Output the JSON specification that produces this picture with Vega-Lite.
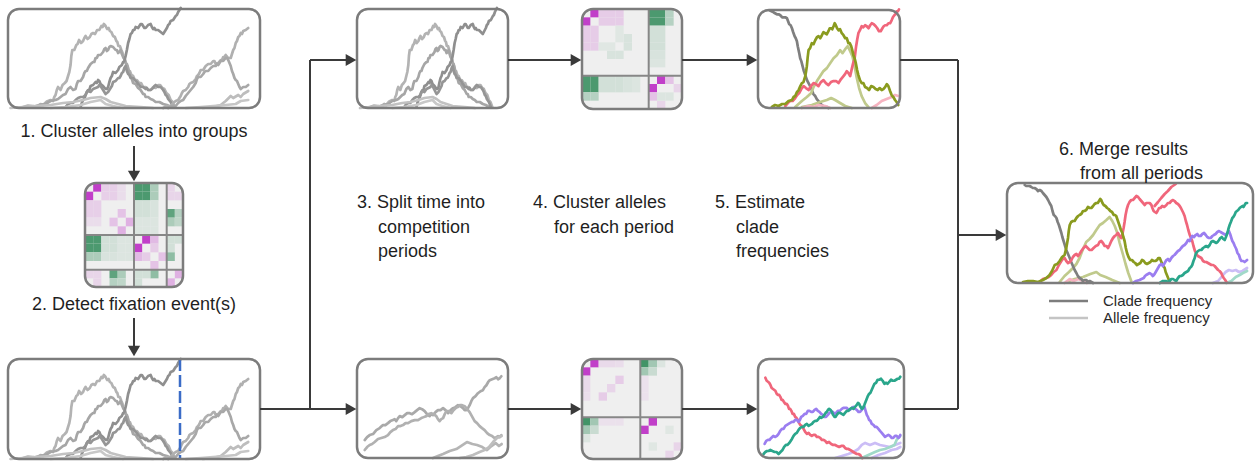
{
"$schema":"https://vega.github.io/schema/vega-lite/v6.json",
"width":1255,"height":462,"padding":0,"autosize":{"type":"none"},
"background":"#ffffff",
"config":{"view":{"stroke":null}},
"datasets":{
"frames":[{"x":8,"y":9,"x2":260,"y2":108},{"x":8,"y":359,"x2":260,"y2":459},{"x":357,"y":9,"x2":508,"y2":108},{"x":758,"y":10,"x2":900,"y2":108},{"x":357,"y":359,"x2":508,"y2":458},{"x":758,"y":359,"x2":904,"y2":458},{"x":1007,"y":183,"x2":1253,"y2":283},{"x":85,"y":183,"x2":183,"y2":287},{"x":582,"y":9,"x2":682,"y2":109},{"x":582,"y":359,"x2":682,"y2":459}],
"hframes":[{"x":85,"y":183,"x2":183,"y2":287},{"x":582,"y":9,"x2":682,"y2":109},{"x":582,"y":359,"x2":682,"y2":459}],
"hgrid":[{"x":134,"y":183,"x2":134,"y2":287},{"x":166.7,"y":183,"x2":166.7,"y2":287},{"x":85,"y":235,"x2":183,"y2":235},{"x":85,"y":269.7,"x2":183,"y2":269.7},{"x":648.7,"y":9,"x2":648.7,"y2":109},{"x":582,"y":75.7,"x2":682,"y2":75.7},{"x":640.3,"y":359,"x2":640.3,"y2":459},{"x":582,"y":417.3,"x2":682,"y2":417.3}],
"segs":[{"x":134,"y":146,"x2":134,"y2":172},{"x":134,"y":318,"x2":134,"y2":347},{"x":260,"y":409,"x2":310,"y2":409},{"x":310,"y":60,"x2":310,"y2":409},{"x":310,"y":60,"x2":347,"y2":60},{"x":310,"y":409,"x2":347,"y2":409},{"x":508,"y":60,"x2":572,"y2":60},{"x":682,"y":60,"x2":748,"y2":60},{"x":508,"y":409,"x2":572,"y2":409},{"x":682,"y":409,"x2":748,"y2":409},{"x":900,"y":60,"x2":958,"y2":60},{"x":958,"y":60,"x2":958,"y2":409},{"x":904,"y":409,"x2":958,"y2":409},{"x":958,"y":235,"x2":997,"y2":235}],
"headsR":[{"x":357,"y":60},{"x":582,"y":60},{"x":758,"y":60},{"x":357,"y":409},{"x":582,"y":409},{"x":758,"y":409},{"x":1007,"y":235}],
"headsD":[{"x":134,"y":182},{"x":134,"y":357}],
"legend":[{"k":"clade","x":1049,"x2":1088,"y":301},{"k":"allele","x":1049,"x2":1088,"y":318}],
"tcenter":[{"label":"1. Cluster alleles into groups","x":134,"y":137},{"label":"2. Detect fixation event(s)","x":134,"y":310}],
"tleft":[{"label":"3. Split time into","x":357,"y":208},{"label":"competition","x":378,"y":233},{"label":"periods","x":378,"y":257},{"label":"4. Cluster alleles","x":533,"y":208},{"label":"for each period","x":554,"y":233},{"label":"5. Estimate","x":715,"y":208},{"label":"clade","x":736,"y":233},{"label":"frequencies","x":736,"y":257},{"label":"6. Merge results","x":1059,"y":155},{"label":"from all periods","x":1080,"y":179}],
"tlegend":[{"label":"Clade frequency","x":1103,"y":301},{"label":"Allele frequency","x":1103,"y":318}],
"h1":[{"i":1,"j":0,"v":-1},{"i":0,"j":1,"v":-1},{"i":2,"j":0,"v":-0.18},{"i":3,"j":0,"v":-0.18},{"i":2,"j":1,"v":-0.18},{"i":3,"j":1,"v":-0.18},{"i":0,"j":2,"v":-0.18},{"i":0,"j":3,"v":-0.18},{"i":1,"j":2,"v":-0.18},{"i":1,"j":3,"v":-0.18},{"i":0,"j":4,"v":-0.1},{"i":1,"j":4,"v":-0.1},{"i":4,"j":0,"v":-0.1},{"i":4,"j":1,"v":-0.1},{"i":4,"j":3,"v":-0.25},{"i":3,"j":4,"v":-0.25},{"i":5,"j":4,"v":-0.35},{"i":4,"j":5,"v":-0.35},{"i":6,"j":0,"v":0.85},{"i":7,"j":0,"v":0.85},{"i":6,"j":1,"v":0.85},{"i":7,"j":1,"v":0.85},{"i":0,"j":6,"v":0.85},{"i":0,"j":7,"v":0.85},{"i":1,"j":6,"v":0.85},{"i":1,"j":7,"v":0.85},{"i":8,"j":0,"v":0.35},{"i":8,"j":1,"v":0.35},{"i":0,"j":8,"v":0.35},{"i":1,"j":8,"v":0.35},{"i":6,"j":2,"v":0.15},{"i":7,"j":2,"v":0.15},{"i":8,"j":2,"v":0.12},{"i":6,"j":3,"v":0.15},{"i":7,"j":3,"v":0.15},{"i":8,"j":3,"v":0.12},{"i":6,"j":4,"v":0.1},{"i":7,"j":4,"v":0.1},{"i":8,"j":4,"v":0.1},{"i":6,"j":5,"v":0.1},{"i":7,"j":5,"v":0.1},{"i":8,"j":5,"v":0.1},{"i":2,"j":6,"v":0.15},{"i":2,"j":7,"v":0.15},{"i":2,"j":8,"v":0.12},{"i":3,"j":6,"v":0.15},{"i":3,"j":7,"v":0.15},{"i":3,"j":8,"v":0.12},{"i":4,"j":6,"v":0.1},{"i":4,"j":7,"v":0.1},{"i":4,"j":8,"v":0.1},{"i":5,"j":6,"v":0.1},{"i":5,"j":7,"v":0.1},{"i":5,"j":8,"v":0.1},{"i":10,"j":0,"v":-0.15},{"i":10,"j":1,"v":-0.15},{"i":11,"j":1,"v":-0.15},{"i":0,"j":10,"v":-0.15},{"i":1,"j":10,"v":-0.15},{"i":1,"j":11,"v":-0.15},{"i":10,"j":3,"v":0.75},{"i":3,"j":10,"v":0.75},{"i":10,"j":4,"v":0.35},{"i":4,"j":10,"v":0.35},{"i":11,"j":3,"v":0.3},{"i":3,"j":11,"v":0.3},{"i":11,"j":4,"v":0.25},{"i":4,"j":11,"v":0.25},{"i":7,"j":6,"v":-1},{"i":6,"j":7,"v":-1},{"i":8,"j":6,"v":-0.3},{"i":6,"j":8,"v":-0.3},{"i":8,"j":7,"v":-0.2},{"i":7,"j":8,"v":-0.2},{"i":9,"j":8,"v":-0.25},{"i":8,"j":9,"v":-0.25},{"i":10,"j":6,"v":0.15},{"i":11,"j":6,"v":0.15},{"i":10,"j":7,"v":0.15},{"i":10,"j":8,"v":0.5},{"i":8,"j":10,"v":0.5},{"i":6,"j":10,"v":0.15},{"i":7,"j":10,"v":0.15},{"i":6,"j":11,"v":0.15},{"i":11,"j":10,"v":-0.35},{"i":10,"j":11,"v":-0.35}],
"h2":[{"i":1,"j":0,"v":-1},{"i":0,"j":1,"v":-1},{"i":2,"j":0,"v":-0.2},{"i":3,"j":0,"v":-0.2},{"i":4,"j":0,"v":-0.2},{"i":2,"j":1,"v":-0.2},{"i":3,"j":1,"v":-0.2},{"i":4,"j":1,"v":-0.2},{"i":0,"j":2,"v":-0.2},{"i":0,"j":3,"v":-0.2},{"i":0,"j":4,"v":-0.2},{"i":1,"j":2,"v":-0.2},{"i":1,"j":3,"v":-0.2},{"i":1,"j":4,"v":-0.2},{"i":5,"j":3,"v":0.12},{"i":5,"j":4,"v":0.12},{"i":3,"j":5,"v":0.12},{"i":4,"j":5,"v":0.12},{"i":2,"j":4,"v":0.08},{"i":3,"j":4,"v":0.08},{"i":4,"j":2,"v":0.08},{"i":4,"j":3,"v":0.08},{"i":8,"j":0,"v":0.85},{"i":9,"j":0,"v":0.85},{"i":8,"j":1,"v":0.85},{"i":9,"j":1,"v":0.85},{"i":0,"j":8,"v":0.85},{"i":0,"j":9,"v":0.85},{"i":1,"j":8,"v":0.85},{"i":1,"j":9,"v":0.85},{"i":10,"j":0,"v":0.3},{"i":10,"j":1,"v":0.3},{"i":0,"j":10,"v":0.3},{"i":1,"j":10,"v":0.3},{"i":8,"j":2,"v":0.15},{"i":9,"j":2,"v":0.15},{"i":8,"j":3,"v":0.15},{"i":9,"j":3,"v":0.15},{"i":8,"j":4,"v":0.15},{"i":9,"j":4,"v":0.15},{"i":8,"j":5,"v":0.12},{"i":9,"j":5,"v":0.12},{"i":8,"j":6,"v":0.1},{"i":9,"j":6,"v":0.1},{"i":2,"j":8,"v":0.15},{"i":2,"j":9,"v":0.15},{"i":3,"j":8,"v":0.15},{"i":3,"j":9,"v":0.15},{"i":4,"j":8,"v":0.15},{"i":4,"j":9,"v":0.15},{"i":5,"j":8,"v":0.12},{"i":5,"j":9,"v":0.12},{"i":6,"j":8,"v":0.1},{"i":6,"j":9,"v":0.1},{"i":9,"j":8,"v":-1},{"i":8,"j":9,"v":-1},{"i":10,"j":8,"v":-0.25},{"i":8,"j":10,"v":-0.25},{"i":10,"j":10,"v":0.1},{"i":11,"j":9,"v":-0.15},{"i":9,"j":11,"v":-0.15},{"i":9,"j":10,"v":0.1}],
"h3":[{"i":1,"j":0,"v":-1},{"i":0,"j":1,"v":-1},{"i":2,"j":0,"v":-0.12},{"i":3,"j":0,"v":-0.12},{"i":0,"j":2,"v":-0.12},{"i":0,"j":3,"v":-0.12},{"i":4,"j":2,"v":-0.2},{"i":2,"j":4,"v":-0.2},{"i":3,"j":3,"v":-0.15},{"i":0,"j":4,"v":-0.1},{"i":4,"j":0,"v":-0.1},{"i":7,"j":0,"v":0.9},{"i":8,"j":0,"v":0.4},{"i":7,"j":1,"v":0.4},{"i":8,"j":1,"v":0.2},{"i":9,"j":0,"v":0.1},{"i":0,"j":7,"v":0.9},{"i":0,"j":8,"v":0.4},{"i":1,"j":7,"v":0.4},{"i":1,"j":8,"v":0.2},{"i":0,"j":9,"v":0.1},{"i":2,"j":7,"v":-0.08},{"i":3,"j":7,"v":-0.08},{"i":4,"j":7,"v":-0.08},{"i":7,"j":2,"v":-0.08},{"i":7,"j":3,"v":-0.08},{"i":7,"j":4,"v":-0.08},{"i":8,"j":7,"v":-1},{"i":7,"j":8,"v":-1},{"i":11,"j":10,"v":-0.15},{"i":10,"j":11,"v":-0.15},{"i":10,"j":8,"v":0.08},{"i":8,"j":10,"v":0.08}],
"p1":[
{"s":"L1","t":6,"f":1},{"s":"L1","t":8,"f":2.5},{"s":"L1","t":10,"f":2},{"s":"L1","t":11,"f":1},{"s":"L1","t":12,"f":2},{"s":"L1","t":13,"f":4},{"s":"L1","t":14,"f":3},{"s":"L1","t":15.5,"f":6.5},{"s":"L1","t":17,"f":8},{"s":"L1","t":18,"f":7},{"s":"L1","t":18.5,"f":11},{"s":"L1","t":19,"f":13},{"s":"L1","t":19.5,"f":18},{"s":"L1","t":20,"f":21},{"s":"L1","t":21,"f":18},{"s":"L1","t":21.8,"f":23},{"s":"L1","t":22.7,"f":25},{"s":"L1","t":23.4,"f":27},{"s":"L1","t":24,"f":32},{"s":"L1","t":24.5,"f":36},{"s":"L1","t":25,"f":43},{"s":"L1","t":25.3,"f":52},{"s":"L1","t":25.7,"f":58},{"s":"L1","t":26.5,"f":58},{"s":"L1","t":27.3,"f":63},{"s":"L1","t":27.8,"f":64},{"s":"L1","t":28.4,"f":68},{"s":"L1","t":29.2,"f":65},{"s":"L1","t":30,"f":67},{"s":"L1","t":30.5,"f":70},{"s":"L1","t":31,"f":72},{"s":"L1","t":31.8,"f":69},{"s":"L1","t":32.7,"f":71},{"s":"L1","t":33.3,"f":74},{"s":"L1","t":34,"f":75},{"s":"L1","t":34.8,"f":74},{"s":"L1","t":35.6,"f":78},{"s":"L1","t":36.5,"f":78},{"s":"L1","t":37.3,"f":82},{"s":"L1","t":37.8,"f":81},{"s":"L1","t":38.3,"f":84},{"s":"L1","t":39,"f":82},{"s":"L1","t":39.6,"f":79},{"s":"L1","t":40.2,"f":80},{"s":"L1","t":40.7,"f":77},{"s":"L1","t":41.3,"f":76},{"s":"L1","t":42,"f":72},{"s":"L1","t":42.7,"f":71},{"s":"L1","t":43.3,"f":67},{"s":"L1","t":43.7,"f":66},{"s":"L1","t":44.1,"f":62},{"s":"L1","t":44.7,"f":62},{"s":"L1","t":45.3,"f":58},{"s":"L1","t":45.8,"f":55},{"s":"L1","t":46.3,"f":50},{"s":"L1","t":46.8,"f":48},{"s":"L1","t":47.3,"f":43},{"s":"L1","t":47.7,"f":42},{"s":"L1","t":48.1,"f":37},{"s":"L1","t":48.7,"f":37},{"s":"L1","t":49.3,"f":33},{"s":"L1","t":50,"f":32},{"s":"L1","t":50.7,"f":28},{"s":"L1","t":51.5,"f":28},{"s":"L1","t":52.4,"f":25},{"s":"L1","t":53.2,"f":25},{"s":"L1","t":54,"f":21},{"s":"L1","t":55,"f":21},{"s":"L1","t":56,"f":18},{"s":"L1","t":57,"f":18},{"s":"L1","t":58,"f":21},{"s":"L1","t":59,"f":20},{"s":"L1","t":60,"f":23},{"s":"L1","t":60.8,"f":23},{"s":"L1","t":61.7,"f":20},{"s":"L1","t":62.5,"f":19},{"s":"L1","t":63.3,"f":15},{"s":"L1","t":64.2,"f":13},{"s":"L1","t":65,"f":8},{"s":"L1","t":65.8,"f":6},{"s":"L1","t":66.7,"f":1},
{"s":"L2","t":10,"f":1},{"s":"L2","t":12.5,"f":3},{"s":"L2","t":15,"f":4},{"s":"L2","t":17,"f":7},{"s":"L2","t":19,"f":8},{"s":"L2","t":20,"f":9},{"s":"L2","t":21,"f":11},{"s":"L2","t":22,"f":13},{"s":"L2","t":23,"f":14},{"s":"L2","t":24,"f":19},{"s":"L2","t":25,"f":21},{"s":"L2","t":26,"f":18},{"s":"L2","t":27,"f":19},{"s":"L2","t":27.5,"f":24},{"s":"L2","t":28,"f":27},{"s":"L2","t":29,"f":27},{"s":"L2","t":30,"f":31},{"s":"L2","t":30.5,"f":35},{"s":"L2","t":31,"f":37},{"s":"L2","t":31.5,"f":37},{"s":"L2","t":32,"f":40},{"s":"L2","t":33,"f":44},{"s":"L2","t":34,"f":46},{"s":"L2","t":34.5,"f":46},{"s":"L2","t":35,"f":50},{"s":"L2","t":35.5,"f":50},{"s":"L2","t":36,"f":53},{"s":"L2","t":37,"f":53},{"s":"L2","t":38,"f":56},{"s":"L2","t":38.5,"f":59},{"s":"L2","t":39,"f":60},{"s":"L2","t":39.5,"f":57},{"s":"L2","t":40,"f":58},{"s":"L2","t":40.5,"f":61},{"s":"L2","t":41,"f":62},{"s":"L2","t":42,"f":61},{"s":"L2","t":43,"f":58},{"s":"L2","t":43.5,"f":58},{"s":"L2","t":44,"f":55},{"s":"L2","t":44.5,"f":56},{"s":"L2","t":45,"f":58},{"s":"L2","t":45.5,"f":54},{"s":"L2","t":46,"f":51},{"s":"L2","t":46.5,"f":49},{"s":"L2","t":47,"f":45},{"s":"L2","t":47.5,"f":44},{"s":"L2","t":48,"f":40},{"s":"L2","t":48.5,"f":35},{"s":"L2","t":49,"f":31},{"s":"L2","t":49.5,"f":29},{"s":"L2","t":50,"f":25},{"s":"L2","t":51,"f":24},{"s":"L2","t":52,"f":20},{"s":"L2","t":53,"f":18},{"s":"L2","t":54,"f":14},{"s":"L2","t":54.5,"f":14},{"s":"L2","t":55,"f":11},{"s":"L2","t":56,"f":11},{"s":"L2","t":57,"f":9},{"s":"L2","t":58,"f":8},{"s":"L2","t":59,"f":6},{"s":"L2","t":60.5,"f":6},{"s":"L2","t":62,"f":4},{"s":"L2","t":63.5,"f":3},{"s":"L2","t":65,"f":1},
{"s":"L3","t":29,"f":1},{"s":"L3","t":29.5,"f":5},{"s":"L3","t":30,"f":8},{"s":"L3","t":30.5,"f":9},{"s":"L3","t":31,"f":13},{"s":"L3","t":31.5,"f":16},{"s":"L3","t":32,"f":18},{"s":"L3","t":32.5,"f":18},{"s":"L3","t":33,"f":22},{"s":"L3","t":34,"f":23},{"s":"L3","t":35,"f":26},{"s":"L3","t":35.5,"f":25},{"s":"L3","t":36,"f":28},{"s":"L3","t":36.5,"f":27},{"s":"L3","t":37,"f":24},{"s":"L3","t":38,"f":22},{"s":"L3","t":39,"f":19},{"s":"L3","t":39.5,"f":19},{"s":"L3","t":40,"f":21},{"s":"L3","t":40.5,"f":26},{"s":"L3","t":41,"f":30},{"s":"L3","t":41.5,"f":32},{"s":"L3","t":42,"f":36},{"s":"L3","t":43,"f":35},{"s":"L3","t":44,"f":38},{"s":"L3","t":44.5,"f":41},{"s":"L3","t":45,"f":42},{"s":"L3","t":45.5,"f":43},{"s":"L3","t":46,"f":46},{"s":"L3","t":46.5,"f":47},{"s":"L3","t":47,"f":52},{"s":"L3","t":47.5,"f":58},{"s":"L3","t":48,"f":65},{"s":"L3","t":48.5,"f":69},{"s":"L3","t":49,"f":74},{"s":"L3","t":49.5,"f":75},{"s":"L3","t":50,"f":78},{"s":"L3","t":50.5,"f":78},{"s":"L3","t":51,"f":81},{"s":"L3","t":52,"f":80},{"s":"L3","t":53,"f":84},{"s":"L3","t":53.5,"f":84},{"s":"L3","t":54,"f":82},{"s":"L3","t":54.5,"f":80},{"s":"L3","t":55,"f":80},{"s":"L3","t":56,"f":83},{"s":"L3","t":57,"f":84},{"s":"L3","t":57.5,"f":81},{"s":"L3","t":58,"f":79},{"s":"L3","t":58.5,"f":80},{"s":"L3","t":59,"f":78},{"s":"L3","t":60,"f":78},{"s":"L3","t":61,"f":76},{"s":"L3","t":61.5,"f":75},{"s":"L3","t":62,"f":74},{"s":"L3","t":62.5,"f":76},{"s":"L3","t":63,"f":78},{"s":"L3","t":63.5,"f":80},{"s":"L3","t":64,"f":83},{"s":"L3","t":64.5,"f":84},{"s":"L3","t":65,"f":87},{"s":"L3","t":66,"f":88},{"s":"L3","t":67,"f":92},{"s":"L3","t":67.5,"f":93},{"s":"L3","t":68,"f":96},{"s":"L3","t":68.5,"f":98},{"s":"L3","t":69,"f":100},
{"s":"L4","t":23,"f":1},{"s":"L4","t":24,"f":4},{"s":"L4","t":25,"f":5},{"s":"L4","t":26,"f":5},{"s":"L4","t":27,"f":8},{"s":"L4","t":28,"f":10},{"s":"L4","t":29,"f":11},{"s":"L4","t":30,"f":11},{"s":"L4","t":31,"f":13},{"s":"L4","t":31.5,"f":16},{"s":"L4","t":32,"f":17},{"s":"L4","t":33,"f":16},{"s":"L4","t":34,"f":19},{"s":"L4","t":35,"f":20},{"s":"L4","t":36,"f":21},{"s":"L4","t":36.5,"f":23},{"s":"L4","t":37,"f":22},{"s":"L4","t":37.5,"f":20},{"s":"L4","t":38,"f":18},{"s":"L4","t":38.5,"f":16},{"s":"L4","t":39,"f":14},{"s":"L4","t":40,"f":16},{"s":"L4","t":41,"f":20},{"s":"L4","t":41.5,"f":22},{"s":"L4","t":42,"f":26},{"s":"L4","t":43,"f":27},{"s":"L4","t":44,"f":30},{"s":"L4","t":44.5,"f":30},{"s":"L4","t":45,"f":32},{"s":"L4","t":45.5,"f":35},{"s":"L4","t":46,"f":36},{"s":"L4","t":46.5,"f":40},{"s":"L4","t":47,"f":42},{"s":"L4","t":47.5,"f":37},{"s":"L4","t":48,"f":34},{"s":"L4","t":48.5,"f":33},{"s":"L4","t":49,"f":30},{"s":"L4","t":50,"f":30},{"s":"L4","t":51,"f":27},{"s":"L4","t":51.5,"f":26},{"s":"L4","t":52,"f":24},{"s":"L4","t":52.5,"f":23},{"s":"L4","t":53,"f":21},{"s":"L4","t":54,"f":21},{"s":"L4","t":55,"f":19},{"s":"L4","t":55.5,"f":20},{"s":"L4","t":56,"f":18},{"s":"L4","t":57,"f":18},{"s":"L4","t":58,"f":20},{"s":"L4","t":58.5,"f":22},{"s":"L4","t":59,"f":23},{"s":"L4","t":59.5,"f":22},{"s":"L4","t":60,"f":21},{"s":"L4","t":61,"f":21},{"s":"L4","t":62,"f":18},{"s":"L4","t":62.5,"f":16},{"s":"L4","t":63,"f":13},{"s":"L4","t":63.5,"f":12},{"s":"L4","t":64,"f":9},{"s":"L4","t":65,"f":6},{"s":"L4","t":66,"f":1},
{"s":"L5","t":1,"f":0},{"s":"L5","t":6,"f":1},{"s":"L5","t":11,"f":2},{"s":"L5","t":17,"f":3},{"s":"L5","t":22,"f":5},{"s":"L5","t":26,"f":6},{"s":"L5","t":30,"f":8},{"s":"L5","t":33,"f":10},{"s":"L5","t":37,"f":11},{"s":"L5","t":39,"f":9},{"s":"L5","t":41,"f":6},{"s":"L5","t":44,"f":4},{"s":"L5","t":47,"f":2},{"s":"L5","t":53,"f":1},{"s":"L5","t":58,"f":0},
{"s":"L6","t":17,"f":0},{"s":"L6","t":23,"f":1},{"s":"L6","t":29,"f":3},{"s":"L6","t":33,"f":6},{"s":"L6","t":37,"f":8},{"s":"L6","t":39,"f":4},{"s":"L6","t":42,"f":2},{"s":"L6","t":46,"f":0},
{"s":"R1","t":62,"f":0},{"s":"R1","t":63.5,"f":2},{"s":"R1","t":65,"f":2},{"s":"R1","t":66,"f":5},{"s":"R1","t":67,"f":7},{"s":"R1","t":68,"f":8},{"s":"R1","t":69,"f":12},{"s":"R1","t":69.5,"f":15},{"s":"R1","t":70,"f":17},{"s":"R1","t":71,"f":18},{"s":"R1","t":72,"f":21},{"s":"R1","t":72.5,"f":24},{"s":"R1","t":73,"f":25},{"s":"R1","t":74,"f":26},{"s":"R1","t":75,"f":29},{"s":"R1","t":75.5,"f":32},{"s":"R1","t":76,"f":33},{"s":"R1","t":76.5,"f":35},{"s":"R1","t":77,"f":38},{"s":"R1","t":78,"f":38},{"s":"R1","t":79,"f":42},{"s":"R1","t":79.5,"f":43},{"s":"R1","t":80,"f":44},{"s":"R1","t":81,"f":44},{"s":"R1","t":82,"f":47},{"s":"R1","t":82.5,"f":47},{"s":"R1","t":83,"f":44},{"s":"R1","t":84,"f":45},{"s":"R1","t":85,"f":48},{"s":"R1","t":85.5,"f":48},{"s":"R1","t":86,"f":51},{"s":"R1","t":86.5,"f":51},{"s":"R1","t":87,"f":53},{"s":"R1","t":88,"f":50},{"s":"R1","t":89,"f":50},{"s":"R1","t":89.5,"f":54},{"s":"R1","t":90,"f":58},{"s":"R1","t":90.5,"f":60},{"s":"R1","t":91,"f":65},{"s":"R1","t":91.5,"f":67},{"s":"R1","t":92,"f":71},{"s":"R1","t":92.5,"f":72},{"s":"R1","t":93,"f":75},{"s":"R1","t":93.5,"f":74},{"s":"R1","t":94,"f":77},{"s":"R1","t":95,"f":78},{"s":"R1","t":96,"f":80},
{"s":"R2","t":64,"f":0},{"s":"R2","t":65.5,"f":2},{"s":"R2","t":67,"f":2},{"s":"R2","t":68,"f":5},{"s":"R2","t":69,"f":7},{"s":"R2","t":70,"f":8},{"s":"R2","t":71,"f":12},{"s":"R2","t":72,"f":15},{"s":"R2","t":73,"f":18},{"s":"R2","t":74,"f":21},{"s":"R2","t":75,"f":25},{"s":"R2","t":75.5,"f":29},{"s":"R2","t":76,"f":31},{"s":"R2","t":77,"f":31},{"s":"R2","t":78,"f":34},{"s":"R2","t":78.5,"f":36},{"s":"R2","t":79,"f":37},{"s":"R2","t":80,"f":37},{"s":"R2","t":81,"f":40},{"s":"R2","t":82,"f":42},{"s":"R2","t":83,"f":42},{"s":"R2","t":83.5,"f":44},{"s":"R2","t":84,"f":43},{"s":"R2","t":84.5,"f":45},{"s":"R2","t":85,"f":47},{"s":"R2","t":86,"f":47},{"s":"R2","t":87,"f":50},{"s":"R2","t":87.5,"f":50},{"s":"R2","t":88,"f":48},{"s":"R2","t":88.5,"f":45},{"s":"R2","t":89,"f":42},{"s":"R2","t":89.5,"f":37},{"s":"R2","t":90,"f":34},{"s":"R2","t":90.5,"f":30},{"s":"R2","t":91,"f":28},{"s":"R2","t":91.5,"f":27},{"s":"R2","t":92,"f":24},{"s":"R2","t":92.5,"f":21},{"s":"R2","t":93,"f":19},{"s":"R2","t":93.5,"f":20},{"s":"R2","t":94,"f":21},{"s":"R2","t":95,"f":21},{"s":"R2","t":96,"f":23},
{"s":"R3","t":78,"f":0},{"s":"R3","t":82,"f":1},{"s":"R3","t":85,"f":3},{"s":"R3","t":87,"f":7},{"s":"R3","t":89,"f":12},{"s":"R3","t":90,"f":10},{"s":"R3","t":92,"f":13},{"s":"R3","t":93,"f":11},{"s":"R3","t":94,"f":14},{"s":"R3","t":96,"f":17},
{"s":"R4","t":71,"f":0},{"s":"R4","t":77,"f":1},{"s":"R4","t":82,"f":2},{"s":"R4","t":87,"f":3},{"s":"R4","t":91,"f":4},{"s":"R4","t":93,"f":7},{"s":"R4","t":96,"f":8}],
"p5":[
{"s":"a","t":5.1,"f":18},{"s":"a","t":6.7,"f":21},{"s":"a","t":8.4,"f":23},{"s":"a","t":10.6,"f":24},{"s":"a","t":12.8,"f":28},{"s":"a","t":15,"f":30},{"s":"a","t":17.2,"f":33},{"s":"a","t":18.8,"f":33},{"s":"a","t":20.5,"f":35},{"s":"a","t":22.1,"f":37},{"s":"a","t":23.8,"f":38},{"s":"a","t":24.9,"f":39},{"s":"a","t":26,"f":37},{"s":"a","t":27.2,"f":40},{"s":"a","t":28.3,"f":42},{"s":"a","t":30,"f":41},{"s":"a","t":31.6,"f":43},{"s":"a","t":33.2,"f":45},{"s":"a","t":34.9,"f":45},{"s":"a","t":36.5,"f":44},{"s":"a","t":38.2,"f":46},{"s":"a","t":39.8,"f":48},{"s":"a","t":41.5,"f":50},{"s":"a","t":43.1,"f":49},{"s":"a","t":44.8,"f":47},{"s":"a","t":46.4,"f":44},{"s":"a","t":48.1,"f":42},{"s":"a","t":49.2,"f":44},{"s":"a","t":50.3,"f":43},{"s":"a","t":52,"f":46},{"s":"a","t":53.6,"f":48},{"s":"a","t":55.3,"f":48},{"s":"a","t":57,"f":50},{"s":"a","t":58.6,"f":48},{"s":"a","t":60.3,"f":45},{"s":"a","t":62,"f":48},{"s":"a","t":63.6,"f":50},{"s":"a","t":65.2,"f":51},{"s":"a","t":66.9,"f":53},{"s":"a","t":68.5,"f":52},{"s":"a","t":70.2,"f":50},{"s":"a","t":71.3,"f":48},{"s":"a","t":72.4,"f":48},{"s":"a","t":73.5,"f":50},{"s":"a","t":74.6,"f":53},{"s":"a","t":75.7,"f":57},{"s":"a","t":76.8,"f":60},{"s":"a","t":78.5,"f":62},{"s":"a","t":80.1,"f":65},{"s":"a","t":81.8,"f":67},{"s":"a","t":83.4,"f":68},{"s":"a","t":84.5,"f":71},{"s":"a","t":85.7,"f":73},{"s":"a","t":86.8,"f":76},{"s":"a","t":87.9,"f":78},{"s":"a","t":89.5,"f":79},{"s":"a","t":91.2,"f":80},{"s":"a","t":92.3,"f":81},{"s":"a","t":93.4,"f":79},{"s":"a","t":94.5,"f":80},{"s":"a","t":95.6,"f":82},
{"s":"b","t":5.1,"f":8},{"s":"b","t":6.7,"f":11},{"s":"b","t":8.4,"f":13},{"s":"b","t":10,"f":14},{"s":"b","t":11.7,"f":16},{"s":"b","t":13.9,"f":19},{"s":"b","t":16.1,"f":20},{"s":"b","t":18.3,"f":21},{"s":"b","t":20.5,"f":23},{"s":"b","t":22.1,"f":26},{"s":"b","t":23.8,"f":28},{"s":"b","t":25.5,"f":29},{"s":"b","t":27.2,"f":32},{"s":"b","t":28.8,"f":32},{"s":"b","t":30.5,"f":33},{"s":"b","t":32.1,"f":35},{"s":"b","t":33.8,"f":35},{"s":"b","t":36,"f":37},{"s":"b","t":38.2,"f":38},{"s":"b","t":40.4,"f":38},{"s":"b","t":42.6,"f":40},{"s":"b","t":44.2,"f":41},{"s":"b","t":45.9,"f":42},{"s":"b","t":47.5,"f":44},{"s":"b","t":49.2,"f":45},{"s":"b","t":50.8,"f":44},{"s":"b","t":52.5,"f":42},{"s":"b","t":53.6,"f":39},{"s":"b","t":54.7,"f":37},{"s":"b","t":55.8,"f":39},{"s":"b","t":57,"f":40},{"s":"b","t":58.1,"f":44},{"s":"b","t":59.2,"f":47},{"s":"b","t":60.8,"f":47},{"s":"b","t":62.5,"f":45},{"s":"b","t":63.9,"f":48},{"s":"b","t":65.3,"f":50},{"s":"b","t":66.6,"f":51},{"s":"b","t":68,"f":53},{"s":"b","t":69.6,"f":53},{"s":"b","t":71.3,"f":52},{"s":"b","t":72.4,"f":50},{"s":"b","t":73.5,"f":48},{"s":"b","t":74.6,"f":46},{"s":"b","t":75.7,"f":43},{"s":"b","t":76.8,"f":40},{"s":"b","t":77.9,"f":37},{"s":"b","t":79.5,"f":35},{"s":"b","t":81.2,"f":32},{"s":"b","t":82.8,"f":30},{"s":"b","t":84.5,"f":28},{"s":"b","t":86.2,"f":25},{"s":"b","t":87.9,"f":23},{"s":"b","t":89.5,"f":22},{"s":"b","t":91.2,"f":20},{"s":"b","t":92.3,"f":21},{"s":"b","t":93.4,"f":22},{"s":"b","t":94.5,"f":21},{"s":"b","t":95.6,"f":23},
{"s":"d","t":50.3,"f":0},{"s":"d","t":53.6,"f":2},{"s":"d","t":57,"f":4},{"s":"d","t":61.4,"f":7},{"s":"d","t":65.8,"f":9},{"s":"d","t":69.8,"f":13},{"s":"d","t":72.8,"f":16},{"s":"d","t":76.4,"f":14},{"s":"d","t":79.5,"f":13},{"s":"d","t":83,"f":11},{"s":"d","t":86.1,"f":8},{"s":"d","t":89,"f":12},{"s":"d","t":91.8,"f":15},{"s":"d","t":94,"f":12},{"s":"d","t":95.8,"f":14},
{"s":"e","t":68,"f":0},{"s":"e","t":72.4,"f":1},{"s":"e","t":76.8,"f":3},{"s":"e","t":81.2,"f":6},{"s":"e","t":84.5,"f":8},{"s":"e","t":87.4,"f":11},{"s":"e","t":90.1,"f":16},{"s":"e","t":92.7,"f":20},{"s":"e","t":95.8,"f":22}],
"p4":[
{"s":"gray","t":8,"f":98},{"s":"gray","t":9.5,"f":97},{"s":"gray","t":11,"f":96},{"s":"gray","t":12,"f":95},{"s":"gray","t":13.3,"f":94},{"s":"gray","t":14.5,"f":94},{"s":"gray","t":15.7,"f":93},{"s":"gray","t":17,"f":91},{"s":"gray","t":18,"f":91},{"s":"gray","t":19.2,"f":91},{"s":"gray","t":20.4,"f":90},{"s":"gray","t":21.2,"f":87},{"s":"gray","t":22,"f":84},{"s":"gray","t":23,"f":83},{"s":"gray","t":23.9,"f":80},{"s":"gray","t":24.8,"f":76},{"s":"gray","t":25.8,"f":72},{"s":"gray","t":26.6,"f":70},{"s":"gray","t":27.4,"f":67},{"s":"gray","t":28,"f":62},{"s":"gray","t":28.6,"f":58},{"s":"gray","t":29.2,"f":54},{"s":"gray","t":29.7,"f":50},{"s":"gray","t":30.5,"f":47},{"s":"gray","t":31.4,"f":42},{"s":"gray","t":32.3,"f":37},{"s":"gray","t":33.3,"f":33},{"s":"gray","t":34.5,"f":28},{"s":"gray","t":35.6,"f":25},{"s":"gray","t":36.7,"f":22},{"s":"gray","t":37.9,"f":18},{"s":"gray","t":39,"f":14},{"s":"gray","t":40.3,"f":12},{"s":"gray","t":41.4,"f":9},{"s":"gray","t":42.6,"f":7},{"s":"gray","t":43.8,"f":5},{"s":"gray","t":45,"f":3},{"s":"gray","t":46,"f":2},{"s":"gray","t":47.3,"f":1},{"s":"gray","t":48.5,"f":1},{"s":"gray","t":49.6,"f":0},
{"s":"olive_a","t":26.2,"f":1},{"s":"olive_a","t":30.9,"f":7},{"s":"olive_a","t":34.4,"f":11},{"s":"olive_a","t":37.5,"f":15},{"s":"olive_a","t":39.1,"f":21},{"s":"olive_a","t":41.5,"f":27},{"s":"olive_a","t":43.8,"f":32},{"s":"olive_a","t":46.1,"f":37},{"s":"olive_a","t":48.5,"f":40},{"s":"olive_a","t":50.8,"f":45},{"s":"olive_a","t":53.2,"f":50},{"s":"olive_a","t":55.5,"f":53},{"s":"olive_a","t":57.8,"f":58},{"s":"olive_a","t":59.5,"f":55},{"s":"olive_a","t":61.4,"f":59},{"s":"olive_a","t":63.2,"f":62},{"s":"olive_a","t":64.9,"f":57},{"s":"olive_a","t":66.5,"f":52},{"s":"olive_a","t":67.9,"f":43},{"s":"olive_a","t":69.3,"f":32},{"s":"olive_a","t":71.2,"f":20},{"s":"olive_a","t":73,"f":12},{"s":"olive_a","t":75.4,"f":5},{"s":"olive_a","t":77.8,"f":1},
{"s":"olive_b","t":30.9,"f":1},{"s":"olive_b","t":37.9,"f":3},{"s":"olive_b","t":43.8,"f":6},{"s":"olive_b","t":48.5,"f":8},{"s":"olive_b","t":51.5,"f":10},{"s":"olive_b","t":54.3,"f":8},{"s":"olive_b","t":57.8,"f":5},{"s":"olive_b","t":61.4,"f":2},{"s":"olive_b","t":66,"f":0},
{"s":"red_a","t":30.9,"f":0},{"s":"red_a","t":35.6,"f":2},{"s":"red_a","t":39.1,"f":1},{"s":"red_a","t":42.6,"f":3},{"s":"red_a","t":47.3,"f":2},{"s":"red_a","t":50.8,"f":0},
{"s":"red_b","t":80.1,"f":0},{"s":"red_b","t":83.6,"f":3},{"s":"red_b","t":87.1,"f":7},{"s":"red_b","t":90.6,"f":9},{"s":"red_b","t":94.1,"f":11},{"s":"red_b","t":96.5,"f":13},{"s":"red_b","t":98.8,"f":12},
{"s":"red","t":19.2,"f":2},{"s":"red","t":21,"f":5},{"s":"red","t":22.7,"f":7},{"s":"red","t":24.5,"f":7},{"s":"red","t":26.2,"f":10},{"s":"red","t":27.6,"f":13},{"s":"red","t":29,"f":15},{"s":"red","t":30.5,"f":19},{"s":"red","t":32.1,"f":22},{"s":"red","t":33.8,"f":20},{"s":"red","t":35.6,"f":18},{"s":"red","t":37.3,"f":22},{"s":"red","t":39.1,"f":25},{"s":"red","t":40.8,"f":24},{"s":"red","t":42.6,"f":22},{"s":"red","t":44.3,"f":26},{"s":"red","t":46.1,"f":28},{"s":"red","t":47.8,"f":25},{"s":"red","t":49.6,"f":23},{"s":"red","t":51.4,"f":26},{"s":"red","t":53.2,"f":27},{"s":"red","t":55,"f":27},{"s":"red","t":56.7,"f":25},{"s":"red","t":58.5,"f":29},{"s":"red","t":60.2,"f":32},{"s":"red","t":61.3,"f":34},{"s":"red","t":62.5,"f":37},{"s":"red","t":63.7,"f":35},{"s":"red","t":64.9,"f":32},{"s":"red","t":65.7,"f":37},{"s":"red","t":66.5,"f":42},{"s":"red","t":67.2,"f":46},{"s":"red","t":67.9,"f":48},{"s":"red","t":68.5,"f":55},{"s":"red","t":69.1,"f":62},{"s":"red","t":69.9,"f":69},{"s":"red","t":70.7,"f":75},{"s":"red","t":71.8,"f":78},{"s":"red","t":73,"f":82},{"s":"red","t":74.2,"f":81},{"s":"red","t":75.4,"f":83},{"s":"red","t":76.6,"f":82},{"s":"red","t":77.8,"f":80},{"s":"red","t":79,"f":83},{"s":"red","t":80.1,"f":85},{"s":"red","t":81.5,"f":84},{"s":"red","t":82.9,"f":82},{"s":"red","t":84,"f":80},{"s":"red","t":85.2,"f":77},{"s":"red","t":86.4,"f":77},{"s":"red","t":87.6,"f":80},{"s":"red","t":88.5,"f":82},{"s":"red","t":89.5,"f":83},{"s":"red","t":90.6,"f":83},{"s":"red","t":91.8,"f":85},{"s":"red","t":93,"f":85},{"s":"red","t":94.1,"f":88},{"s":"red","t":95,"f":91},{"s":"red","t":96,"f":93},{"s":"red","t":96.8,"f":94},{"s":"red","t":97.7,"f":97},{"s":"red","t":98.5,"f":97},{"s":"red","t":99.3,"f":99},
{"s":"olive","t":9.8,"f":1},{"s":"olive","t":12,"f":3},{"s":"olive","t":14.5,"f":2},{"s":"olive","t":17,"f":4},{"s":"olive","t":19.2,"f":4},{"s":"olive","t":21.5,"f":7},{"s":"olive","t":23.9,"f":8},{"s":"olive","t":25,"f":11},{"s":"olive","t":26.2,"f":12},{"s":"olive","t":27.4,"f":16},{"s":"olive","t":28.6,"f":18},{"s":"olive","t":29.8,"f":22},{"s":"olive","t":30.9,"f":25},{"s":"olive","t":32,"f":26},{"s":"olive","t":33.3,"f":32},{"s":"olive","t":33.9,"f":37},{"s":"olive","t":34.4,"f":42},{"s":"olive","t":35,"f":51},{"s":"olive","t":35.6,"f":58},{"s":"olive","t":36.7,"f":60},{"s":"olive","t":37.9,"f":65},{"s":"olive","t":39.1,"f":64},{"s":"olive","t":40.3,"f":68},{"s":"olive","t":41.5,"f":71},{"s":"olive","t":42.6,"f":72},{"s":"olive","t":43.8,"f":70},{"s":"olive","t":45,"f":73},{"s":"olive","t":46.1,"f":76},{"s":"olive","t":47.3,"f":75},{"s":"olive","t":48.5,"f":74},{"s":"olive","t":49.6,"f":77},{"s":"olive","t":50.5,"f":80},{"s":"olive","t":51.5,"f":80},{"s":"olive","t":52.3,"f":79},{"s":"olive","t":53.2,"f":82},{"s":"olive","t":54,"f":85},{"s":"olive","t":54.8,"f":83},{"s":"olive","t":55.7,"f":80},{"s":"olive","t":56.7,"f":78},{"s":"olive","t":57.8,"f":79},{"s":"olive","t":59,"f":75},{"s":"olive","t":60.2,"f":73},{"s":"olive","t":61.4,"f":70},{"s":"olive","t":62.5,"f":70},{"s":"olive","t":63.7,"f":65},{"s":"olive","t":64.6,"f":65},{"s":"olive","t":65.6,"f":62},{"s":"olive","t":66.4,"f":58},{"s":"olive","t":67.2,"f":53},{"s":"olive","t":68,"f":50},{"s":"olive","t":68.9,"f":45},{"s":"olive","t":69.8,"f":38},{"s":"olive","t":70.7,"f":33},{"s":"olive","t":71.8,"f":28},{"s":"olive","t":73,"f":25},{"s":"olive","t":74.2,"f":25},{"s":"olive","t":75.4,"f":21},{"s":"olive","t":76.8,"f":20},{"s":"olive","t":78.2,"f":18},{"s":"olive","t":79.7,"f":22},{"s":"olive","t":81.3,"f":21},{"s":"olive","t":82.8,"f":19},{"s":"olive","t":84.3,"f":18},{"s":"olive","t":85.7,"f":20},{"s":"olive","t":87.1,"f":18},{"s":"olive","t":88.3,"f":19},{"s":"olive","t":89.5,"f":21},{"s":"olive","t":90.7,"f":24},{"s":"olive","t":91.8,"f":22},{"s":"olive","t":93,"f":17},{"s":"olive","t":94.1,"f":13},{"s":"olive","t":95.3,"f":11},{"s":"olive","t":96.5,"f":8},{"s":"olive","t":97.6,"f":6},{"s":"olive","t":98.8,"f":3}],
"p6":[
{"s":"purple_a","t":52.5,"f":0},{"s":"purple_a","t":57,"f":2},{"s":"purple_a","t":61.5,"f":4},{"s":"purple_a","t":64.9,"f":6},{"s":"purple_a","t":68.3,"f":9},{"s":"purple_a","t":70.6,"f":13},{"s":"purple_a","t":72.9,"f":15},{"s":"purple_a","t":76.2,"f":13},{"s":"purple_a","t":79.6,"f":15},{"s":"purple_a","t":83,"f":13},{"s":"purple_a","t":86.4,"f":12},{"s":"purple_a","t":89.8,"f":11},{"s":"purple_a","t":93.2,"f":13},{"s":"purple_a","t":96.8,"f":15},
{"s":"purple_b","t":77.4,"f":0},{"s":"purple_b","t":81.9,"f":3},{"s":"purple_b","t":86.4,"f":5},{"s":"purple_b","t":90.9,"f":8},{"s":"purple_b","t":94.3,"f":9},{"s":"purple_b","t":96.8,"f":11},
{"s":"teal_a","t":70.6,"f":0},{"s":"teal_a","t":75.1,"f":3},{"s":"teal_a","t":79.6,"f":6},{"s":"teal_a","t":83,"f":8},{"s":"teal_a","t":86.4,"f":9},{"s":"teal_a","t":89.8,"f":11},{"s":"teal_a","t":92.8,"f":13},{"s":"teal_a","t":94.3,"f":18},{"s":"teal_a","t":95.9,"f":21},{"s":"teal_a","t":96.8,"f":22},
{"s":"red","t":5,"f":80},{"s":"red","t":5.9,"f":77},{"s":"red","t":6.8,"f":76},{"s":"red","t":7.6,"f":75},{"s":"red","t":8.4,"f":73},{"s":"red","t":9.2,"f":70},{"s":"red","t":10,"f":69},{"s":"red","t":10.9,"f":68},{"s":"red","t":11.8,"f":67},{"s":"red","t":12.7,"f":64},{"s":"red","t":13.6,"f":63},{"s":"red","t":14.4,"f":63},{"s":"red","t":15.2,"f":61},{"s":"red","t":16,"f":58},{"s":"red","t":16.7,"f":58},{"s":"red","t":17.6,"f":56},{"s":"red","t":18.6,"f":54},{"s":"red","t":19.5,"f":54},{"s":"red","t":20.4,"f":52},{"s":"red","t":21.1,"f":49},{"s":"red","t":21.9,"f":49},{"s":"red","t":22.7,"f":47},{"s":"red","t":23.5,"f":44},{"s":"red","t":24.4,"f":44},{"s":"red","t":25.3,"f":41},{"s":"red","t":26.2,"f":40},{"s":"red","t":27.1,"f":38},{"s":"red","t":27.9,"f":35},{"s":"red","t":28.7,"f":33},{"s":"red","t":29.8,"f":32},{"s":"red","t":31,"f":29},{"s":"red","t":32.1,"f":26},{"s":"red","t":33.3,"f":24},{"s":"red","t":34.4,"f":25},{"s":"red","t":35.5,"f":23},{"s":"red","t":36.6,"f":22},{"s":"red","t":37.8,"f":23},{"s":"red","t":38.9,"f":23},{"s":"red","t":40,"f":21},{"s":"red","t":41.1,"f":21},{"s":"red","t":42.3,"f":20},{"s":"red","t":43.4,"f":18},{"s":"red","t":44.6,"f":18},{"s":"red","t":45.7,"f":17},{"s":"red","t":46.8,"f":15},{"s":"red","t":48.3,"f":16},{"s":"red","t":49.8,"f":14},{"s":"red","t":51.1,"f":13},{"s":"red","t":52.5,"f":13},{"s":"red","t":53.8,"f":12},{"s":"red","t":55.2,"f":11},{"s":"red","t":56.6,"f":12},{"s":"red","t":58.1,"f":12},{"s":"red","t":59.2,"f":10},{"s":"red","t":60.4,"f":9},{"s":"red","t":61.5,"f":9},{"s":"red","t":62.7,"f":8},{"s":"red","t":63.8,"f":7},{"s":"red","t":64.9,"f":6},{"s":"red","t":66,"f":5},{"s":"red","t":67.2,"f":4},{"s":"red","t":68.3,"f":4},{"s":"red","t":69.5,"f":3},{"s":"red","t":70.2,"f":1},{"s":"red","t":71,"f":0},
{"s":"purple","t":4.5,"f":14},{"s":"purple","t":5.6,"f":17},{"s":"purple","t":6.8,"f":18},{"s":"purple","t":7.9,"f":18},{"s":"purple","t":9,"f":20},{"s":"purple","t":10.4,"f":22},{"s":"purple","t":11.8,"f":21},{"s":"purple","t":12.9,"f":22},{"s":"purple","t":14,"f":24},{"s":"purple","t":15.1,"f":27},{"s":"purple","t":16.3,"f":29},{"s":"purple","t":17.4,"f":29},{"s":"purple","t":18.6,"f":32},{"s":"purple","t":19.7,"f":33},{"s":"purple","t":20.8,"f":34},{"s":"purple","t":21.9,"f":35},{"s":"purple","t":23.1,"f":36},{"s":"purple","t":24.2,"f":36},{"s":"purple","t":25.3,"f":38},{"s":"purple","t":26.4,"f":38},{"s":"purple","t":27.6,"f":36},{"s":"purple","t":28.5,"f":38},{"s":"purple","t":29.4,"f":41},{"s":"purple","t":30.5,"f":42},{"s":"purple","t":31.7,"f":44},{"s":"purple","t":32.8,"f":44},{"s":"purple","t":33.9,"f":47},{"s":"purple","t":35,"f":47},{"s":"purple","t":36.2,"f":46},{"s":"purple","t":37.3,"f":46},{"s":"purple","t":38.5,"f":48},{"s":"purple","t":39.6,"f":49},{"s":"purple","t":40.7,"f":47},{"s":"purple","t":41.8,"f":46},{"s":"purple","t":43,"f":44},{"s":"purple","t":44.1,"f":43},{"s":"purple","t":45.2,"f":41},{"s":"purple","t":46.3,"f":41},{"s":"purple","t":47.5,"f":43},{"s":"purple","t":48.6,"f":45},{"s":"purple","t":49.8,"f":46},{"s":"purple","t":50.9,"f":46},{"s":"purple","t":52,"f":44},{"s":"purple","t":53.1,"f":45},{"s":"purple","t":54.3,"f":47},{"s":"purple","t":55.6,"f":47},{"s":"purple","t":57,"f":49},{"s":"purple","t":58.1,"f":50},{"s":"purple","t":59.3,"f":50},{"s":"purple","t":60.4,"f":50},{"s":"purple","t":61.5,"f":48},{"s":"purple","t":62.6,"f":48},{"s":"purple","t":63.8,"f":50},{"s":"purple","t":64.9,"f":51},{"s":"purple","t":66.1,"f":49},{"s":"purple","t":67.2,"f":48},{"s":"purple","t":68.3,"f":46},{"s":"purple","t":69.4,"f":46},{"s":"purple","t":70.6,"f":48},{"s":"purple","t":71.5,"f":50},{"s":"purple","t":72.4,"f":51},{"s":"purple","t":73.2,"f":47},{"s":"purple","t":74,"f":43},{"s":"purple","t":74.8,"f":41},{"s":"purple","t":75.6,"f":38},{"s":"purple","t":76.5,"f":37},{"s":"purple","t":77.4,"f":34},{"s":"purple","t":78.5,"f":33},{"s":"purple","t":79.6,"f":31},{"s":"purple","t":80.7,"f":31},{"s":"purple","t":81.9,"f":29},{"s":"purple","t":83,"f":27},{"s":"purple","t":84.2,"f":25},{"s":"purple","t":85.3,"f":23},{"s":"purple","t":86.4,"f":21},{"s":"purple","t":87.5,"f":22},{"s":"purple","t":88.7,"f":23},{"s":"purple","t":89.8,"f":22},{"s":"purple","t":90.9,"f":20},{"s":"purple","t":92,"f":20},{"s":"purple","t":93.2,"f":22},{"s":"purple","t":94.3,"f":22},{"s":"purple","t":95.5,"f":20},{"s":"purple","t":96.2,"f":21},{"s":"purple","t":96.8,"f":23},
{"s":"teal","t":3.8,"f":4},{"s":"teal","t":5,"f":6},{"s":"teal","t":6.1,"f":7},{"s":"teal","t":7.2,"f":7},{"s":"teal","t":8.4,"f":8},{"s":"teal","t":9.8,"f":7},{"s":"teal","t":11.3,"f":6},{"s":"teal","t":12.6,"f":6},{"s":"teal","t":14,"f":4},{"s":"teal","t":15.3,"f":6},{"s":"teal","t":16.7,"f":8},{"s":"teal","t":17.8,"f":11},{"s":"teal","t":19,"f":13},{"s":"teal","t":20.1,"f":13},{"s":"teal","t":21.3,"f":15},{"s":"teal","t":22.2,"f":17},{"s":"teal","t":23.1,"f":19},{"s":"teal","t":24.2,"f":22},{"s":"teal","t":25.3,"f":24},{"s":"teal","t":26.4,"f":25},{"s":"teal","t":27.6,"f":28},{"s":"teal","t":28.7,"f":30},{"s":"teal","t":29.9,"f":31},{"s":"teal","t":31,"f":31},{"s":"teal","t":32.1,"f":33},{"s":"teal","t":33.2,"f":34},{"s":"teal","t":34.4,"f":32},{"s":"teal","t":35.5,"f":33},{"s":"teal","t":36.7,"f":34},{"s":"teal","t":37.8,"f":36},{"s":"teal","t":38.9,"f":37},{"s":"teal","t":40,"f":37},{"s":"teal","t":41.2,"f":39},{"s":"teal","t":42.1,"f":41},{"s":"teal","t":43,"f":40},{"s":"teal","t":44.1,"f":41},{"s":"teal","t":45.2,"f":43},{"s":"teal","t":46,"f":45},{"s":"teal","t":46.8,"f":46},{"s":"teal","t":47.6,"f":48},{"s":"teal","t":48.4,"f":49},{"s":"teal","t":49.3,"f":48},{"s":"teal","t":50.2,"f":46},{"s":"teal","t":51.1,"f":43},{"s":"teal","t":52,"f":41},{"s":"teal","t":52.8,"f":41},{"s":"teal","t":53.6,"f":43},{"s":"teal","t":54.7,"f":45},{"s":"teal","t":55.9,"f":45},{"s":"teal","t":57,"f":44},{"s":"teal","t":58.1,"f":43},{"s":"teal","t":59.2,"f":45},{"s":"teal","t":60.4,"f":47},{"s":"teal","t":61.5,"f":47},{"s":"teal","t":62.7,"f":49},{"s":"teal","t":63.8,"f":50},{"s":"teal","t":64.9,"f":49},{"s":"teal","t":66,"f":51},{"s":"teal","t":67.2,"f":53},{"s":"teal","t":68,"f":55},{"s":"teal","t":68.8,"f":54},{"s":"teal","t":69.7,"f":51},{"s":"teal","t":70.6,"f":49},{"s":"teal","t":71.5,"f":50},{"s":"teal","t":72.4,"f":53},{"s":"teal","t":73.2,"f":56},{"s":"teal","t":74,"f":59},{"s":"teal","t":74.8,"f":62},{"s":"teal","t":75.6,"f":64},{"s":"teal","t":76.5,"f":65},{"s":"teal","t":77.4,"f":68},{"s":"teal","t":78.3,"f":71},{"s":"teal","t":79.2,"f":74},{"s":"teal","t":80.3,"f":75},{"s":"teal","t":81.4,"f":78},{"s":"teal","t":82.5,"f":78},{"s":"teal","t":83.7,"f":79},{"s":"teal","t":84.8,"f":77},{"s":"teal","t":86,"f":74},{"s":"teal","t":87.1,"f":75},{"s":"teal","t":88.2,"f":74},{"s":"teal","t":89.3,"f":76},{"s":"teal","t":90.5,"f":78},{"s":"teal","t":91.6,"f":77},{"s":"teal","t":92.8,"f":77},{"s":"teal","t":93.9,"f":78},{"s":"teal","t":95,"f":79},{"s":"teal","t":95.9,"f":79},{"s":"teal","t":96.8,"f":81}],
"p7":[
{"s":"olive_a","t":21.4,"f":1},{"s":"olive_a","t":23.4,"f":7},{"s":"olive_a","t":25.2,"f":11},{"s":"olive_a","t":26.8,"f":15},{"s":"olive_a","t":28.2,"f":19},{"s":"olive_a","t":29.5,"f":25},{"s":"olive_a","t":30.9,"f":34},{"s":"olive_a","t":32.2,"f":41},{"s":"olive_a","t":33.6,"f":44},{"s":"olive_a","t":35,"f":48},{"s":"olive_a","t":36.3,"f":53},{"s":"olive_a","t":37.7,"f":58},{"s":"olive_a","t":39,"f":60},{"s":"olive_a","t":40.4,"f":63},{"s":"olive_a","t":41.7,"f":66},{"s":"olive_a","t":42.8,"f":62},{"s":"olive_a","t":43.8,"f":57},{"s":"olive_a","t":44.7,"f":51},{"s":"olive_a","t":45.8,"f":40},{"s":"olive_a","t":47.2,"f":28},{"s":"olive_a","t":48.2,"f":19},{"s":"olive_a","t":49.3,"f":10},{"s":"olive_a","t":50.5,"f":2},
{"s":"olive_b","t":24.1,"f":1},{"s":"olive_b","t":27.5,"f":4},{"s":"olive_b","t":30.9,"f":6},{"s":"olive_b","t":33.9,"f":9},{"s":"olive_b","t":36.3,"f":11},{"s":"olive_b","t":37.9,"f":8},{"s":"olive_b","t":40.1,"f":6},{"s":"olive_b","t":42.8,"f":3},{"s":"olive_b","t":45.8,"f":0},
{"s":"red_a","t":23.4,"f":0},{"s":"red_a","t":25.5,"f":4},{"s":"red_a","t":27.1,"f":2},{"s":"red_a","t":29,"f":4},{"s":"red_a","t":30.9,"f":2},{"s":"red_a","t":32.5,"f":0},
{"s":"purple_a","t":83.7,"f":0},{"s":"purple_a","t":85.8,"f":2},{"s":"purple_a","t":87.5,"f":7},{"s":"purple_a","t":88.9,"f":11},{"s":"purple_a","t":90.2,"f":13},{"s":"purple_a","t":91.6,"f":12},{"s":"purple_a","t":93,"f":13},{"s":"purple_a","t":94.3,"f":11},{"s":"purple_a","t":95.7,"f":12},{"s":"purple_a","t":97.6,"f":15},
{"s":"teal_a","t":89.2,"f":0},{"s":"teal_a","t":91.2,"f":2},{"s":"teal_a","t":93,"f":6},{"s":"teal_a","t":94.6,"f":8},{"s":"teal_a","t":95.9,"f":10},{"s":"teal_a","t":97.6,"f":12},
{"s":"gray","t":7.2,"f":98},{"s":"gray","t":7.8,"f":97},{"s":"gray","t":8.5,"f":97},{"s":"gray","t":9.2,"f":97},{"s":"gray","t":9.9,"f":96},{"s":"gray","t":10.5,"f":95},{"s":"gray","t":11.2,"f":95},{"s":"gray","t":11.9,"f":94},{"s":"gray","t":12.6,"f":92},{"s":"gray","t":13.3,"f":93},{"s":"gray","t":14,"f":92},{"s":"gray","t":14.6,"f":90},{"s":"gray","t":15.3,"f":88},{"s":"gray","t":16,"f":86},{"s":"gray","t":16.7,"f":83},{"s":"gray","t":17.3,"f":80},{"s":"gray","t":18,"f":77},{"s":"gray","t":18.5,"f":72},{"s":"gray","t":19,"f":68},{"s":"gray","t":19.5,"f":67},{"s":"gray","t":20.1,"f":65},{"s":"gray","t":20.6,"f":61},{"s":"gray","t":21.1,"f":58},{"s":"gray","t":21.6,"f":54},{"s":"gray","t":22.1,"f":50},{"s":"gray","t":22.5,"f":46},{"s":"gray","t":23,"f":42},{"s":"gray","t":23.5,"f":38},{"s":"gray","t":24.1,"f":33},{"s":"gray","t":24.8,"f":29},{"s":"gray","t":25.5,"f":25},{"s":"gray","t":26.1,"f":21},{"s":"gray","t":26.8,"f":17},{"s":"gray","t":27.5,"f":13},{"s":"gray","t":28.2,"f":10},{"s":"gray","t":28.8,"f":7},{"s":"gray","t":29.5,"f":5},{"s":"gray","t":30.2,"f":4},{"s":"gray","t":30.9,"f":2},{"s":"gray","t":31.5,"f":3},{"s":"gray","t":32.2,"f":3},{"s":"gray","t":32.9,"f":1},{"s":"gray","t":33.6,"f":2},{"s":"gray","t":34.3,"f":1},{"s":"gray","t":35,"f":0},
{"s":"red","t":13.3,"f":1},{"s":"red","t":14.6,"f":4},{"s":"red","t":16,"f":5},{"s":"red","t":17,"f":6},{"s":"red","t":18,"f":8},{"s":"red","t":19,"f":11},{"s":"red","t":20.1,"f":13},{"s":"red","t":21.1,"f":18},{"s":"red","t":22.1,"f":22},{"s":"red","t":22.7,"f":24},{"s":"red","t":23.4,"f":25},{"s":"red","t":24.1,"f":22},{"s":"red","t":24.8,"f":20},{"s":"red","t":25.5,"f":21},{"s":"red","t":26.2,"f":23},{"s":"red","t":26.8,"f":26},{"s":"red","t":27.5,"f":28},{"s":"red","t":28.2,"f":29},{"s":"red","t":28.9,"f":27},{"s":"red","t":29.5,"f":29},{"s":"red","t":30.2,"f":32},{"s":"red","t":31.1,"f":35},{"s":"red","t":32,"f":37},{"s":"red","t":32.8,"f":35},{"s":"red","t":33.6,"f":33},{"s":"red","t":34.4,"f":33},{"s":"red","t":35.2,"f":35},{"s":"red","t":36.1,"f":37},{"s":"red","t":37,"f":38},{"s":"red","t":37.6,"f":41},{"s":"red","t":38.3,"f":42},{"s":"red","t":39,"f":40},{"s":"red","t":39.7,"f":37},{"s":"red","t":40.4,"f":37},{"s":"red","t":41.1,"f":35},{"s":"red","t":41.7,"f":38},{"s":"red","t":42.4,"f":42},{"s":"red","t":43.1,"f":45},{"s":"red","t":43.8,"f":47},{"s":"red","t":44.4,"f":48},{"s":"red","t":45.1,"f":50},{"s":"red","t":45.8,"f":47},{"s":"red","t":46.5,"f":45},{"s":"red","t":47,"f":50},{"s":"red","t":47.4,"f":55},{"s":"red","t":47.8,"f":61},{"s":"red","t":48.2,"f":68},{"s":"red","t":48.7,"f":74},{"s":"red","t":49.2,"f":78},{"s":"red","t":49.8,"f":81},{"s":"red","t":50.5,"f":83},{"s":"red","t":51.2,"f":83},{"s":"red","t":51.9,"f":85},{"s":"red","t":52.6,"f":87},{"s":"red","t":53.3,"f":86},{"s":"red","t":53.9,"f":84},{"s":"red","t":54.6,"f":82},{"s":"red","t":55.3,"f":80},{"s":"red","t":56,"f":78},{"s":"red","t":56.6,"f":80},{"s":"red","t":57.3,"f":80},{"s":"red","t":58,"f":80},{"s":"red","t":58.7,"f":78},{"s":"red","t":59.1,"f":75},{"s":"red","t":59.6,"f":72},{"s":"red","t":60.1,"f":71},{"s":"red","t":60.7,"f":70},{"s":"red","t":61.2,"f":72},{"s":"red","t":61.8,"f":75},{"s":"red","t":62.4,"f":75},{"s":"red","t":63.1,"f":77},{"s":"red","t":63.9,"f":76},{"s":"red","t":64.8,"f":78},{"s":"red","t":65.4,"f":80},{"s":"red","t":66.1,"f":80},{"s":"red","t":66.8,"f":82},{"s":"red","t":67.5,"f":83},{"s":"red","t":68.1,"f":82},{"s":"red","t":68.8,"f":80},{"s":"red","t":69.5,"f":79},{"s":"red","t":70.2,"f":77},{"s":"red","t":70.7,"f":75},{"s":"red","t":71.3,"f":72},{"s":"red","t":71.7,"f":70},{"s":"red","t":72.2,"f":67},{"s":"red","t":72.7,"f":62},{"s":"red","t":73.2,"f":58},{"s":"red","t":73.7,"f":53},{"s":"red","t":74.3,"f":48},{"s":"red","t":74.8,"f":45},{"s":"red","t":75.3,"f":42},{"s":"red","t":75.8,"f":37},{"s":"red","t":76.4,"f":32},{"s":"red","t":77,"f":29},{"s":"red","t":77.6,"f":27},{"s":"red","t":78.3,"f":26},{"s":"red","t":79,"f":25},{"s":"red","t":79.7,"f":22},{"s":"red","t":80.4,"f":21},{"s":"red","t":81,"f":21},{"s":"red","t":81.7,"f":20},{"s":"red","t":82.4,"f":19},{"s":"red","t":83.1,"f":18},{"s":"red","t":83.8,"f":18},{"s":"red","t":84.4,"f":17},{"s":"red","t":85.1,"f":15},{"s":"red","t":85.8,"f":13},{"s":"red","t":86.4,"f":12},{"s":"red","t":87.1,"f":10},{"s":"red","t":87.6,"f":7},{"s":"red","t":88.1,"f":5},{"s":"red","t":88.7,"f":3},{"s":"red","t":89.2,"f":1},
{"s":"red_c","t":60,"f":77},{"s":"red_c","t":61.4,"f":81},{"s":"red_c","t":62.7,"f":85},{"s":"red_c","t":64.1,"f":89},{"s":"red_c","t":65.4,"f":92},{"s":"red_c","t":66.8,"f":96},{"s":"red_c","t":68.6,"f":99},
{"s":"olive","t":6.5,"f":1},{"s":"olive","t":8.5,"f":2},{"s":"olive","t":10.6,"f":2},{"s":"olive","t":12.6,"f":1},{"s":"olive","t":14.6,"f":3},{"s":"olive","t":16,"f":5},{"s":"olive","t":17.3,"f":8},{"s":"olive","t":18.3,"f":12},{"s":"olive","t":19.4,"f":18},{"s":"olive","t":20.4,"f":19},{"s":"olive","t":21.4,"f":22},{"s":"olive","t":22.4,"f":26},{"s":"olive","t":23.4,"f":28},{"s":"olive","t":24.1,"f":35},{"s":"olive","t":24.8,"f":45},{"s":"olive","t":25.1,"f":52},{"s":"olive","t":25.5,"f":58},{"s":"olive","t":26.1,"f":61},{"s":"olive","t":26.8,"f":62},{"s":"olive","t":27.5,"f":62},{"s":"olive","t":28.2,"f":65},{"s":"olive","t":28.9,"f":67},{"s":"olive","t":29.5,"f":68},{"s":"olive","t":30.2,"f":69},{"s":"olive","t":30.9,"f":72},{"s":"olive","t":31.5,"f":72},{"s":"olive","t":32.2,"f":73},{"s":"olive","t":32.9,"f":76},{"s":"olive","t":33.6,"f":75},{"s":"olive","t":34.3,"f":75},{"s":"olive","t":35,"f":77},{"s":"olive","t":35.6,"f":79},{"s":"olive","t":36.3,"f":80},{"s":"olive","t":36.9,"f":80},{"s":"olive","t":37.4,"f":82},{"s":"olive","t":37.9,"f":84},{"s":"olive","t":38.3,"f":83},{"s":"olive","t":38.8,"f":80},{"s":"olive","t":39.3,"f":78},{"s":"olive","t":40,"f":77},{"s":"olive","t":40.7,"f":75},{"s":"olive","t":41.3,"f":74},{"s":"olive","t":42,"f":72},{"s":"olive","t":42.7,"f":71},{"s":"olive","t":43.4,"f":68},{"s":"olive","t":43.9,"f":68},{"s":"olive","t":44.4,"f":67},{"s":"olive","t":45.1,"f":62},{"s":"olive","t":45.8,"f":57},{"s":"olive","t":46.3,"f":53},{"s":"olive","t":46.9,"f":50},{"s":"olive","t":47.3,"f":46},{"s":"olive","t":47.8,"f":42},{"s":"olive","t":48.3,"f":35},{"s":"olive","t":48.8,"f":30},{"s":"olive","t":49.4,"f":26},{"s":"olive","t":50.1,"f":23},{"s":"olive","t":50.8,"f":23},{"s":"olive","t":51.5,"f":21},{"s":"olive","t":52.1,"f":20},{"s":"olive","t":52.8,"f":18},{"s":"olive","t":53.5,"f":19},{"s":"olive","t":54.2,"f":20},{"s":"olive","t":54.9,"f":23},{"s":"olive","t":55.6,"f":22},{"s":"olive","t":56.2,"f":20},{"s":"olive","t":56.9,"f":19},{"s":"olive","t":57.6,"f":20},{"s":"olive","t":58.3,"f":21},{"s":"olive","t":58.9,"f":23},{"s":"olive","t":59.6,"f":22},{"s":"olive","t":60.3,"f":22},{"s":"olive","t":61,"f":23},{"s":"olive","t":61.5,"f":25},{"s":"olive","t":62.1,"f":25},{"s":"olive","t":62.6,"f":22},{"s":"olive","t":63.1,"f":19},{"s":"olive","t":63.6,"f":17},{"s":"olive","t":64.1,"f":15},{"s":"olive","t":64.5,"f":11},{"s":"olive","t":65,"f":8},{"s":"olive","t":65.5,"f":5},{"s":"olive","t":66.1,"f":1},
{"s":"purple","t":51.2,"f":0},{"s":"purple","t":52.5,"f":2},{"s":"purple","t":53.9,"f":3},{"s":"purple","t":54.7,"f":4},{"s":"purple","t":55.6,"f":5},{"s":"purple","t":56.1,"f":7},{"s":"purple","t":56.6,"f":8},{"s":"purple","t":57.3,"f":9},{"s":"purple","t":58,"f":10},{"s":"purple","t":58.6,"f":9},{"s":"purple","t":59.3,"f":7},{"s":"purple","t":60,"f":9},{"s":"purple","t":60.7,"f":12},{"s":"purple","t":61.4,"f":15},{"s":"purple","t":62.1,"f":18},{"s":"purple","t":62.7,"f":19},{"s":"purple","t":63.4,"f":17},{"s":"purple","t":64.1,"f":20},{"s":"purple","t":64.8,"f":23},{"s":"purple","t":65.4,"f":24},{"s":"purple","t":66.1,"f":22},{"s":"purple","t":66.8,"f":25},{"s":"purple","t":67.5,"f":27},{"s":"purple","t":68.1,"f":28},{"s":"purple","t":68.8,"f":30},{"s":"purple","t":69.5,"f":32},{"s":"purple","t":70.2,"f":33},{"s":"purple","t":70.8,"f":35},{"s":"purple","t":71.5,"f":37},{"s":"purple","t":72.2,"f":38},{"s":"purple","t":72.9,"f":40},{"s":"purple","t":73.6,"f":43},{"s":"purple","t":74.3,"f":42},{"s":"purple","t":74.8,"f":45},{"s":"purple","t":75.3,"f":47},{"s":"purple","t":76,"f":46},{"s":"purple","t":76.7,"f":48},{"s":"purple","t":77.3,"f":49},{"s":"purple","t":78,"f":47},{"s":"purple","t":78.7,"f":47},{"s":"purple","t":79.4,"f":49},{"s":"purple","t":80.1,"f":50},{"s":"purple","t":80.8,"f":48},{"s":"purple","t":81.4,"f":46},{"s":"purple","t":82.1,"f":45},{"s":"purple","t":82.8,"f":45},{"s":"purple","t":83.5,"f":47},{"s":"purple","t":84.1,"f":48},{"s":"purple","t":84.8,"f":49},{"s":"purple","t":85.5,"f":51},{"s":"purple","t":86.2,"f":52},{"s":"purple","t":86.8,"f":51},{"s":"purple","t":87.5,"f":50},{"s":"purple","t":88.2,"f":49},{"s":"purple","t":88.9,"f":48},{"s":"purple","t":89.5,"f":50},{"s":"purple","t":90.2,"f":52},{"s":"purple","t":90.7,"f":49},{"s":"purple","t":91.2,"f":45},{"s":"purple","t":91.6,"f":42},{"s":"purple","t":92.1,"f":40},{"s":"purple","t":92.6,"f":37},{"s":"purple","t":93.2,"f":34},{"s":"purple","t":93.7,"f":30},{"s":"purple","t":94.3,"f":28},{"s":"purple","t":94.8,"f":24},{"s":"purple","t":95.3,"f":22},{"s":"purple","t":96,"f":22},{"s":"purple","t":96.6,"f":21},{"s":"purple","t":97.1,"f":22},{"s":"purple","t":97.6,"f":23},
{"s":"teal","t":62.1,"f":0},{"s":"teal","t":63.4,"f":2},{"s":"teal","t":64.8,"f":2},{"s":"teal","t":65.4,"f":1},{"s":"teal","t":66.1,"f":2},{"s":"teal","t":66.8,"f":4},{"s":"teal","t":67.5,"f":4},{"s":"teal","t":68.1,"f":3},{"s":"teal","t":68.8,"f":2},{"s":"teal","t":69.5,"f":5},{"s":"teal","t":70.2,"f":7},{"s":"teal","t":70.8,"f":7},{"s":"teal","t":71.5,"f":8},{"s":"teal","t":72.2,"f":10},{"s":"teal","t":72.9,"f":11},{"s":"teal","t":73.6,"f":12},{"s":"teal","t":74.3,"f":15},{"s":"teal","t":74.8,"f":16},{"s":"teal","t":75.3,"f":18},{"s":"teal","t":75.8,"f":22},{"s":"teal","t":76.3,"f":25},{"s":"teal","t":76.7,"f":29},{"s":"teal","t":77.2,"f":31},{"s":"teal","t":77.7,"f":32},{"s":"teal","t":78.3,"f":33},{"s":"teal","t":79,"f":33},{"s":"teal","t":79.7,"f":35},{"s":"teal","t":80.3,"f":36},{"s":"teal","t":81,"f":37},{"s":"teal","t":81.7,"f":36},{"s":"teal","t":82.4,"f":38},{"s":"teal","t":83,"f":41},{"s":"teal","t":83.7,"f":42},{"s":"teal","t":84.4,"f":41},{"s":"teal","t":85.1,"f":40},{"s":"teal","t":85.6,"f":41},{"s":"teal","t":86.2,"f":43},{"s":"teal","t":86.7,"f":45},{"s":"teal","t":87.3,"f":46},{"s":"teal","t":87.9,"f":44},{"s":"teal","t":88.5,"f":43},{"s":"teal","t":89,"f":46},{"s":"teal","t":89.6,"f":50},{"s":"teal","t":90,"f":54},{"s":"teal","t":90.5,"f":58},{"s":"teal","t":91,"f":61},{"s":"teal","t":91.6,"f":65},{"s":"teal","t":92,"f":66},{"s":"teal","t":92.5,"f":68},{"s":"teal","t":93,"f":71},{"s":"teal","t":93.5,"f":72},{"s":"teal","t":94,"f":73},{"s":"teal","t":94.6,"f":75},{"s":"teal","t":95.1,"f":76},{"s":"teal","t":95.7,"f":77},{"s":"teal","t":96.1,"f":76},{"s":"teal","t":96.6,"f":78},{"s":"teal","t":97.1,"f":80},{"s":"teal","t":97.6,"f":80}]
},
"resolve":{"scale":{"x":"independent","y":"independent","color":"independent"}},
"layer":[
{"data":{"name":"hframes"},"mark":{"type":"rect","fill":"#efefef","cornerRadius":11},
 "encoding":{"x":{"field":"x","type":"quantitative","scale":{"domain":[0,1255],"range":[0,1255],"nice":false,"zero":false},"axis":null},"x2":{"field":"x2"},
 "y":{"field":"y","type":"quantitative","scale":{"domain":[0,462],"range":[0,462],"nice":false,"zero":false},"axis":null},"y2":{"field":"y2"}}},
{"data":{"name":"h1"},"mark":{"type":"rect"},
 "encoding":{"x":{"field":"i","type":"ordinal","scale":{"type":"band","domain":[0,1,2,3,4,5,6,7,8,9,10,11],"range":[85,183],"paddingInner":0,"paddingOuter":0},"axis":null},
 "y":{"field":"j","type":"ordinal","scale":{"type":"band","domain":[0,1,2,3,4,5,6,7,8,9,10,11],"range":[183,287],"paddingInner":0,"paddingOuter":0},"axis":null},
 "color":{"field":"v","type":"quantitative","scale":{"domain":[-1,0,1],"range":["#c13fc9","#efefef","#2f8a58"],"interpolate":"rgb"},"legend":null}}},
{"data":{"name":"h2"},"mark":{"type":"rect"},
 "encoding":{"x":{"field":"i","type":"ordinal","scale":{"type":"band","domain":[0,1,2,3,4,5,6,7,8,9,10,11],"range":[582,682],"paddingInner":0,"paddingOuter":0},"axis":null},
 "y":{"field":"j","type":"ordinal","scale":{"type":"band","domain":[0,1,2,3,4,5,6,7,8,9,10,11],"range":[9,109],"paddingInner":0,"paddingOuter":0},"axis":null},
 "color":{"field":"v","type":"quantitative","scale":{"domain":[-1,0,1],"range":["#c13fc9","#efefef","#2f8a58"],"interpolate":"rgb"},"legend":null}}},
{"data":{"name":"h3"},"mark":{"type":"rect"},
 "encoding":{"x":{"field":"i","type":"ordinal","scale":{"type":"band","domain":[0,1,2,3,4,5,6,7,8,9,10,11],"range":[582,682],"paddingInner":0,"paddingOuter":0},"axis":null},
 "y":{"field":"j","type":"ordinal","scale":{"type":"band","domain":[0,1,2,3,4,5,6,7,8,9,10,11],"range":[359,459],"paddingInner":0,"paddingOuter":0},"axis":null},
 "color":{"field":"v","type":"quantitative","scale":{"domain":[-1,0,1],"range":["#c13fc9","#efefef","#2f8a58"],"interpolate":"rgb"},"legend":null}}},
{"data":{"name":"hgrid"},"mark":{"type":"rule","color":"#878787","strokeWidth":2},
 "encoding":{"x":{"field":"x","type":"quantitative","scale":{"domain":[0,1255],"range":[0,1255],"nice":false,"zero":false},"axis":null},"x2":{"field":"x2"},
 "y":{"field":"y","type":"quantitative","scale":{"domain":[0,462],"range":[0,462],"nice":false,"zero":false},"axis":null},"y2":{"field":"y2"}}},
{"data":{"name":"p1"},"mark":{"type":"line","strokeWidth":2.7,"strokeJoin":"round","strokeCap":"round"},
 "encoding":{"x":{"field":"t","type":"quantitative","scale":{"domain":[0,100.7],"range":[8,260],"nice":false,"zero":false},"axis":null},
 "y":{"field":"f","type":"quantitative","scale":{"domain":[0,99],"range":[108,9],"nice":false,"zero":false},"axis":null},
 "color":{"field":"s","type":"nominal","scale":{"domain":["L1","L2","L3","L4","L5","L6","R1","R2","R3","R4"],"range":["#b3b3b3","#a6a6a6","#8f8f8f","#959595","#c2c2c2","#c8c8c8","#b0b0b0","#a8a8a8","#bdbdbd","#c6c6c6"]},"legend":null}}},
{"data":{"name":"p1"},"mark":{"type":"line","strokeWidth":2.7,"strokeJoin":"round","strokeCap":"round"},
 "encoding":{"x":{"field":"t","type":"quantitative","scale":{"domain":[0,100.7],"range":[8,260],"nice":false,"zero":false},"axis":null},
 "y":{"field":"f","type":"quantitative","scale":{"domain":[0,99],"range":[459,360],"nice":false,"zero":false},"axis":null},
 "color":{"field":"s","type":"nominal","scale":{"domain":["L1","L2","L3","L4","L5","L6","R1","R2","R3","R4"],"range":["#b3b3b3","#a6a6a6","#8f8f8f","#959595","#c2c2c2","#c8c8c8","#b0b0b0","#a8a8a8","#bdbdbd","#c6c6c6"]},"legend":null}}},
{"data":{"name":"p1"},"transform":[{"filter":{"field":"s","oneOf":["L1","L2","L3","L4","L5","L6"]}},{"filter":"datum.t <= 72"}],
 "mark":{"type":"line","strokeWidth":2.7,"strokeJoin":"round","strokeCap":"round"},
 "encoding":{"x":{"field":"t","type":"quantitative","scale":{"domain":[0,75],"range":[358,509],"nice":false,"zero":false},"axis":null},
 "y":{"field":"f","type":"quantitative","scale":{"domain":[0,99],"range":[108,9],"nice":false,"zero":false},"axis":null},
 "color":{"field":"s","type":"nominal","scale":{"domain":["L1","L2","L3","L4","L5","L6"],"range":["#b3b3b3","#a6a6a6","#8f8f8f","#959595","#c2c2c2","#c8c8c8"]},"legend":null}}},
{"data":{"name":"p5"},"mark":{"type":"line","strokeWidth":2.7,"strokeJoin":"round","strokeCap":"round"},
 "encoding":{"x":{"field":"t","type":"quantitative","scale":{"domain":[0,100],"range":[357,508],"nice":false,"zero":false},"axis":null},
 "y":{"field":"f","type":"quantitative","scale":{"domain":[0,99.3],"range":[458,359],"nice":false,"zero":false},"axis":null},
 "color":{"field":"s","type":"nominal","scale":{"domain":["a","b","d","e"],"range":["#a9a9a9","#b1b1b1","#b5b5b5","#bebebe"]},"legend":null}}},
{"data":{"name":"p4"},"mark":{"type":"line","strokeWidth":2.7,"strokeJoin":"round","strokeCap":"round"},
 "encoding":{"x":{"field":"t","type":"quantitative","scale":{"domain":[0,100],"range":[758,900],"nice":false,"zero":false},"axis":null},
 "y":{"field":"f","type":"quantitative","scale":{"domain":[0,98.3],"range":[108,10],"nice":false,"zero":false},"axis":null},
 "color":{"field":"s","type":"nominal","scale":{"domain":["gray","olive","olive_a","olive_b","red","red_a","red_b","red_c","purple","purple_a","purple_b","teal","teal_a"],"range":["#7f7f7f","#8a9b1f","#c0ca8c","#c0ca8c","#f0667b","#f6b3c0","#f6b3c0","#f0667b","#9b7ef0","#cbbdf6","#cbbdf6","#2aa68b","#a0d9c8"]},"legend":null}}},
{"data":{"name":"p6"},"mark":{"type":"line","strokeWidth":2.7,"strokeJoin":"round","strokeCap":"round"},
 "encoding":{"x":{"field":"t","type":"quantitative","scale":{"domain":[0,100],"range":[758,905],"nice":false,"zero":false},"axis":null},
 "y":{"field":"f","type":"quantitative","scale":{"domain":[0,98.7],"range":[458,359],"nice":false,"zero":false},"axis":null},
 "color":{"field":"s","type":"nominal","scale":{"domain":["gray","olive","olive_a","olive_b","red","red_a","red_b","red_c","purple","purple_a","purple_b","teal","teal_a"],"range":["#7f7f7f","#8a9b1f","#c0ca8c","#c0ca8c","#f0667b","#f6b3c0","#f6b3c0","#f0667b","#9b7ef0","#cbbdf6","#cbbdf6","#2aa68b","#a0d9c8"]},"legend":null}}},
{"data":{"name":"p7"},"mark":{"type":"line","strokeWidth":2.7,"strokeJoin":"round","strokeCap":"round"},
 "encoding":{"x":{"field":"t","type":"quantitative","scale":{"domain":[0,100],"range":[1007,1253],"nice":false,"zero":false},"axis":null},
 "y":{"field":"f","type":"quantitative","scale":{"domain":[0,100],"range":[283,183],"nice":false,"zero":false},"axis":null},
 "color":{"field":"s","type":"nominal","scale":{"domain":["gray","olive","olive_a","olive_b","red","red_a","red_b","red_c","purple","purple_a","purple_b","teal","teal_a"],"range":["#7f7f7f","#8a9b1f","#c0ca8c","#c0ca8c","#f0667b","#f6b3c0","#f6b3c0","#f0667b","#9b7ef0","#cbbdf6","#cbbdf6","#2aa68b","#a0d9c8"]},"legend":null}}},
{"data":{"values":[{"x":180,"y":359,"y2":459}]},"mark":{"type":"rule","color":"#3b6cc7","strokeWidth":2.5,"strokeDash":[12,4]},
 "encoding":{"x":{"field":"x","type":"quantitative","scale":{"domain":[0,1255],"range":[0,1255],"nice":false,"zero":false},"axis":null},
 "y":{"field":"y","type":"quantitative","scale":{"domain":[0,462],"range":[0,462],"nice":false,"zero":false},"axis":null},"y2":{"field":"y2"}}},
{"data":{"name":"frames"},"mark":{"type":"rect","fill":null,"stroke":"#7c7c7c","strokeWidth":2.5,"cornerRadius":11},
 "encoding":{"x":{"field":"x","type":"quantitative","scale":{"domain":[0,1255],"range":[0,1255],"nice":false,"zero":false},"axis":null},"x2":{"field":"x2"},
 "y":{"field":"y","type":"quantitative","scale":{"domain":[0,462],"range":[0,462],"nice":false,"zero":false},"axis":null},"y2":{"field":"y2"}}},
{"data":{"name":"segs"},"mark":{"type":"rule","color":"#3a3a3a","strokeWidth":2},
 "encoding":{"x":{"field":"x","type":"quantitative","scale":{"domain":[0,1255],"range":[0,1255],"nice":false,"zero":false},"axis":null},"x2":{"field":"x2"},
 "y":{"field":"y","type":"quantitative","scale":{"domain":[0,462],"range":[0,462],"nice":false,"zero":false},"axis":null},"y2":{"field":"y2"}}},
{"data":{"name":"headsR"},"mark":{"type":"point","shape":"triangle-right","filled":true,"size":150,"color":"#3a3a3a","opacity":1,"xOffset":-6},
 "encoding":{"x":{"field":"x","type":"quantitative","scale":{"domain":[0,1255],"range":[0,1255],"nice":false,"zero":false},"axis":null},
 "y":{"field":"y","type":"quantitative","scale":{"domain":[0,462],"range":[0,462],"nice":false,"zero":false},"axis":null}}},
{"data":{"name":"headsD"},"mark":{"type":"point","shape":"triangle-down","filled":true,"size":150,"color":"#3a3a3a","opacity":1,"yOffset":-6},
 "encoding":{"x":{"field":"x","type":"quantitative","scale":{"domain":[0,1255],"range":[0,1255],"nice":false,"zero":false},"axis":null},
 "y":{"field":"y","type":"quantitative","scale":{"domain":[0,462],"range":[0,462],"nice":false,"zero":false},"axis":null}}},
{"data":{"name":"legend"},"mark":{"type":"rule","strokeWidth":2.5},
 "encoding":{"x":{"field":"x","type":"quantitative","scale":{"domain":[0,1255],"range":[0,1255],"nice":false,"zero":false},"axis":null},"x2":{"field":"x2"},
 "y":{"field":"y","type":"quantitative","scale":{"domain":[0,462],"range":[0,462],"nice":false,"zero":false},"axis":null},
 "color":{"field":"k","type":"nominal","scale":{"domain":["clade","allele"],"range":["#7d7d7d","#c4c4c4"]},"legend":null}}},
{"data":{"name":"tcenter"},"mark":{"type":"text","align":"center","baseline":"alphabetic","font":"Liberation Sans","fontSize":18,"color":"#1f1f1f"},
 "encoding":{"x":{"field":"x","type":"quantitative","scale":{"domain":[0,1255],"range":[0,1255],"nice":false,"zero":false},"axis":null},
 "y":{"field":"y","type":"quantitative","scale":{"domain":[0,462],"range":[0,462],"nice":false,"zero":false},"axis":null},"text":{"field":"label"}}},
{"data":{"name":"tleft"},"mark":{"type":"text","align":"left","baseline":"alphabetic","font":"Liberation Sans","fontSize":18,"color":"#1f1f1f"},
 "encoding":{"x":{"field":"x","type":"quantitative","scale":{"domain":[0,1255],"range":[0,1255],"nice":false,"zero":false},"axis":null},
 "y":{"field":"y","type":"quantitative","scale":{"domain":[0,462],"range":[0,462],"nice":false,"zero":false},"axis":null},"text":{"field":"label"}}},
{"data":{"name":"tlegend"},"mark":{"type":"text","align":"left","baseline":"middle","font":"Liberation Sans","fontSize":15,"color":"#2a2a2a"},
 "encoding":{"x":{"field":"x","type":"quantitative","scale":{"domain":[0,1255],"range":[0,1255],"nice":false,"zero":false},"axis":null},
 "y":{"field":"y","type":"quantitative","scale":{"domain":[0,462],"range":[0,462],"nice":false,"zero":false},"axis":null},"text":{"field":"label"}}}
]
}
